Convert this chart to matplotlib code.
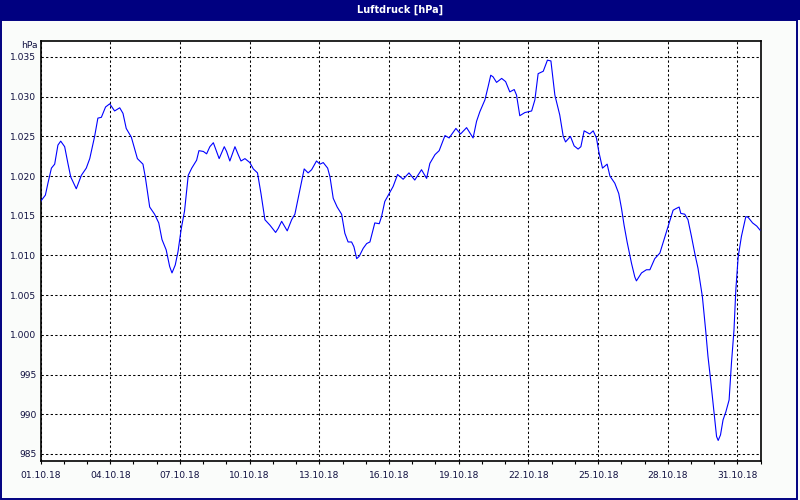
import matplotlib
matplotlib.use("Agg")
import matplotlib.pyplot as plt
from matplotlib.patches import Rectangle
from matplotlib.ticker import FixedLocator, MultipleLocator, FuncFormatter

# ---- data (day offset from 01.10.18 00:00, pressure in hPa) ----
days = [0.00, 0.21, 0.32, 0.47, 0.61, 0.75, 0.87, 1.04, 1.18, 1.30, 1.54, 1.76, 1.97,
        2.12, 2.33, 2.47, 2.62, 2.80, 2.98, 3.19, 3.41, 3.55, 3.69, 3.91, 4.17, 4.41,
        4.51, 4.70, 4.91, 5.09, 5.23, 5.41, 5.56, 5.66, 5.80, 5.92, 6.06, 6.20, 6.36,
        6.51, 6.72, 6.82, 7.01, 7.15, 7.29, 7.44, 7.58, 7.69, 7.91, 8.01, 8.15, 8.37,
        8.51, 8.63, 8.80, 9.01, 9.16, 9.34, 9.49, 9.66, 9.88, 10.12, 10.23, 10.38,
        10.62, 10.81, 10.95, 11.17, 11.35, 11.52, 11.67, 11.88, 12.03, 12.17, 12.36,
        12.46, 12.60, 12.77, 12.96, 13.10, 13.24, 13.39, 13.49, 13.61, 13.72, 13.89,
        14.04, 14.18, 14.39, 14.58, 14.68, 14.82, 15.01, 15.18, 15.37, 15.61, 15.86,
        16.11, 16.40, 16.62, 16.76, 16.98, 17.16, 17.41, 17.59, 17.88, 18.08, 18.34,
        18.62, 18.77, 18.91, 19.13, 19.27, 19.38, 19.48, 19.63, 19.85, 20.02, 20.20,
        20.39, 20.49, 20.63, 20.85, 21.14, 21.28, 21.42, 21.64, 21.82, 21.97, 22.14,
        22.35, 22.50, 22.60, 22.81, 22.97, 23.14, 23.26, 23.40, 23.64, 23.79, 23.93,
        24.03, 24.19, 24.39, 24.51, 24.72, 24.89, 25.01, 25.12, 25.25, 25.44, 25.58,
        25.65, 25.87, 26.08, 26.23, 26.44, 26.66, 26.83, 27.06, 27.23, 27.35, 27.49,
        27.56, 27.73, 27.87, 28.02, 28.16, 28.30, 28.49, 28.63, 28.73, 28.83, 28.92,
        29.02, 29.10, 29.17, 29.27, 29.38, 29.50, 29.64, 29.74, 29.85, 29.93, 30.03,
        30.17, 30.36, 30.46, 30.65, 30.83, 30.97]
pressure = [1016.8, 1017.6, 1019.1, 1021.0, 1021.5, 1023.9, 1024.4, 1023.7, 1021.6,
            1019.9, 1018.4, 1020.1, 1021.0, 1022.2, 1025.0, 1027.3, 1027.4, 1028.7,
            1029.1, 1028.2, 1028.6, 1027.9, 1026.0, 1024.9, 1022.2, 1021.5, 1019.9,
            1016.1, 1015.2, 1014.1, 1012.0, 1010.7, 1008.6, 1007.8, 1008.8, 1010.5,
            1013.4, 1015.6, 1020.1, 1021.0, 1022.0, 1023.2, 1023.1, 1022.8, 1023.7,
            1024.2, 1023.1, 1022.2, 1023.7, 1023.1, 1021.9, 1023.7, 1022.7, 1021.9,
            1022.2, 1021.7, 1020.9, 1020.4, 1017.8, 1014.5, 1013.8, 1012.9, 1013.4,
            1014.3, 1013.1, 1014.5, 1015.2, 1018.3, 1020.9, 1020.4, 1020.8, 1021.9,
            1021.5, 1021.7, 1021.0, 1019.9, 1017.2, 1016.1, 1015.2, 1012.8, 1011.7,
            1011.7, 1011.1, 1009.6, 1009.9, 1010.9, 1011.5, 1011.7, 1014.1, 1014.0,
            1014.9, 1016.8, 1017.8, 1018.7, 1020.2, 1019.6, 1020.4, 1019.5, 1020.8,
            1019.7, 1021.6, 1022.7, 1023.2, 1025.1, 1024.8, 1026.0, 1025.3, 1026.1,
            1024.8, 1026.9, 1028.1, 1029.6, 1031.3, 1032.7, 1032.5, 1031.8, 1032.3,
            1031.9, 1030.6, 1030.9, 1030.2, 1027.6, 1028.0, 1028.2, 1029.6, 1032.9,
            1033.2, 1034.6, 1034.5, 1030.2, 1027.7, 1025.0, 1024.3, 1025.0, 1023.8,
            1023.4, 1023.7, 1025.7, 1025.3, 1025.7, 1024.8, 1023.1, 1021.0, 1021.5,
            1020.0, 1019.1, 1017.8, 1015.9, 1013.8, 1011.7, 1009.0, 1007.3, 1006.8,
            1007.8, 1008.2, 1008.2, 1009.6, 1010.3, 1011.9, 1014.1, 1015.7, 1015.9,
            1016.1, 1015.3, 1015.2, 1014.5, 1012.4, 1010.3, 1008.4, 1004.8, 1000.6,
            997.3, 994.7, 992.2, 989.3, 987.2, 986.7, 987.4, 989.3, 990.3, 991.8,
            996.4, 1000.6, 1005.7, 1009.8, 1012.4, 1014.9, 1014.8, 1014.1, 1013.7,
            1013.2]

tick_days = [0, 3, 6, 9, 12, 15, 18, 21, 24, 27, 30]
tick_labels = ["01.10.18", "04.10.18", "07.10.18", "10.10.18", "13.10.18", "16.10.18",
               "19.10.18", "22.10.18", "25.10.18", "28.10.18", "31.10.18"]
y_ticks = [985, 990, 995, 1000, 1005, 1010, 1015, 1020, 1025, 1030, 1035]
title = "Luftdruck [hPa]"
unit = "hPa"

W, H = 800, 500
fig = plt.figure(figsize=(W / 100, H / 100), dpi=100)
fig.patch.set_facecolor("#fafcfa")

navy = "#000080"
# title bar
fig.patches.append(Rectangle((0, 1 - 20 / H), 1, 20 / H, transform=fig.transFigure,
                             facecolor=navy, edgecolor="none", zorder=0))
# window frame
fig.patches.append(Rectangle((1 / W, 1.5 / H), 796 / W, (H - 21.5) / H,
                             transform=fig.transFigure, facecolor="none",
                             edgecolor=navy, linewidth=1.4, zorder=1))
fig.text(0.5, 1 - 10 / H, title, color="white", ha="center", va="center",
         fontsize=7, fontweight="bold", family="DejaVu Sans")

left, right, top, bottom = 40.5, 760.7, 40.7, 460.7
ax = fig.add_axes([left / W, 1 - bottom / H, (right - left) / W, (bottom - top) / H])
ax.set_facecolor("white")
ax.plot(days, pressure, color="#0000ff", linewidth=0.8, zorder=3)

ax.set_xlim(0, 31)
ax.set_ylim(984.15, 1037.05)

ax.xaxis.set_major_locator(FixedLocator(tick_days))
ax.set_xticklabels(tick_labels)
ax.xaxis.set_minor_locator(MultipleLocator(1))
ax.yaxis.set_major_locator(FixedLocator(y_ticks))
ax.yaxis.set_major_formatter(FuncFormatter(lambda v, p: f"{int(v):,}".replace(",", ".")))

label_color = "#101040"
ax.tick_params(axis="x", which="both", direction="out", length=2.5, width=0.8,
               color="black", labelsize=6.6, labelcolor=label_color, pad=5)
ax.tick_params(axis="y", which="both", length=0, labelsize=6.6,
               labelcolor=label_color, pad=3)

ax.grid(True, which="major", color="black", linestyle=(0, (2.2, 2.2)), linewidth=0.75)
for s in ax.spines.values():
    s.set_color("black")
    s.set_linewidth(1.2)

fig.text((left - 3) / W, 1 - 45 / H, unit, ha="right", va="center", fontsize=6.6,
         color=label_color)

fig.savefig("out.png", dpi=100, facecolor=fig.get_facecolor())
